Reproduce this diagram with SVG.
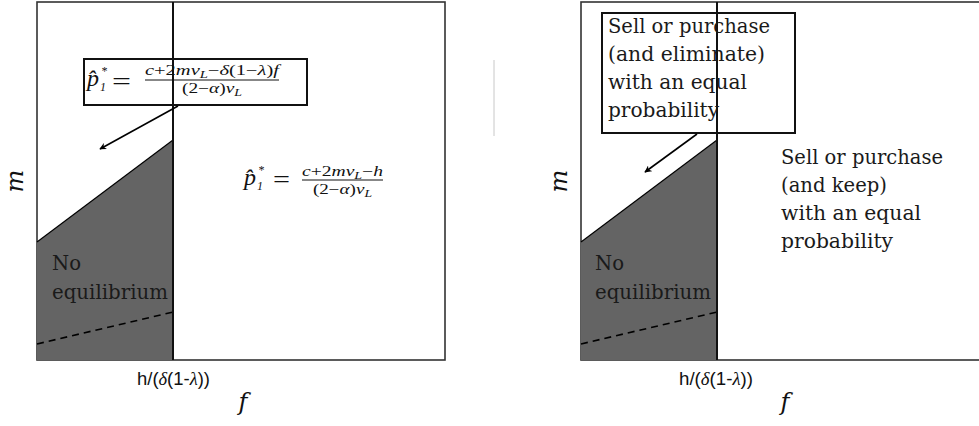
<svg xmlns="http://www.w3.org/2000/svg" width="979" height="426" viewBox="0 0 979 426">
<style>
.panel{fill:#fff;stroke:#333;stroke-width:1.6}
.shade{fill:#646464;stroke:none}
.diag{stroke:#000;stroke-width:1.2;fill:none}
.dash{stroke:#000;stroke-width:1.6;stroke-dasharray:7 5;fill:none}
.vline{stroke:#111;stroke-width:2;fill:none}
.box{fill:none;stroke:#111;stroke-width:2}
.serif{font-family:'Liberation Serif','DejaVu Serif',serif;fill:#111}
.mi{font-family:'Liberation Serif','DejaVu Serif',serif;font-style:italic;fill:#111}
.ax{font-family:'DejaVu Serif','Liberation Serif',serif;font-style:italic;fill:#111;font-size:24px}
.lbl{font-family:'DejaVu Serif','Liberation Serif',serif;fill:#1a1a1a;font-size:19.5px}
.sans{font-family:'Liberation Sans','DejaVu Sans',sans-serif;fill:#111;font-size:18px}
.arrow{stroke:#000;stroke-width:1.6;fill:none;marker-end:url(#ah)}
</style>
<defs>
<marker id="ah" viewBox="0 0 10 10" refX="9" refY="5" markerWidth="7" markerHeight="7" orient="auto" markerUnits="userSpaceOnUse">
<path d="M0,0 L10,5 L0,10 L3,5 z" fill="#000"/>
</marker>
</defs>

<g id="left-panel">
<rect class="panel" x="37" y="2" width="408" height="358"/>
<polygon class="shade" points="37,242 173,140 173,360 37,360"/>
<line class="diag" x1="37" y1="242" x2="173" y2="140"/>
<line class="dash" x1="37" y1="344" x2="173" y2="312"/>
<line class="vline" x1="173" y1="2" x2="173" y2="360"/>
</g>
<g id="left-axes">
<text class="ax" transform="translate(23,181) rotate(-90)" text-anchor="middle">m</text>
<text class="ax" x="243" y="410" text-anchor="middle">f</text>
<text class="sans" x="137" y="385" textLength="73" lengthAdjust="spacingAndGlyphs">h/(<tspan class="mi">δ</tspan>(1-<tspan class="mi">λ</tspan>))</text>
</g>
<g id="left-noeq">
<text class="lbl" x="52" y="270" textLength="29" lengthAdjust="spacingAndGlyphs">No</text>
<text class="lbl" x="52" y="299" textLength="116" lengthAdjust="spacingAndGlyphs">equilibrium</text>
</g>
<g id="left-formula-box">
<rect class="box" x="84" y="59" width="223" height="46"/>
<text class="mi" font-size="24" x="87" y="86">p̂<tspan class="serif" font-size="12" dx="2" dy="-11">*</tspan><tspan class="serif" font-size="12" dx="-7" dy="16">1</tspan></text>
<text class="serif" font-size="26" x="112" y="90" textLength="19" lengthAdjust="spacingAndGlyphs">=</text>
<text class="serif" font-size="14" x="145" y="75" textLength="134" lengthAdjust="spacingAndGlyphs"><tspan class="mi">c</tspan>+2<tspan class="mi">mv</tspan><tspan class="mi" font-size="10" dy="3">L</tspan><tspan dy="-3">−</tspan><tspan class="mi">δ</tspan>(1−<tspan class="mi">λ</tspan>)<tspan class="mi">f</tspan></text>
<line x1="145" y1="80" x2="279" y2="80" stroke="#111" stroke-width="1"/>
<text class="serif" font-size="14" x="182" y="93" textLength="60" lengthAdjust="spacingAndGlyphs">(2−<tspan class="mi">α</tspan>)<tspan class="mi">v</tspan><tspan class="mi" font-size="10" dy="3">L</tspan></text>
</g>
<g id="left-formula-right">
<text class="mi" font-size="24" x="244" y="185">p̂<tspan class="serif" font-size="12" dx="2" dy="-11">*</tspan><tspan class="serif" font-size="12" dx="-7" dy="16">1</tspan></text>
<text class="serif" font-size="26" x="273" y="188" textLength="17" lengthAdjust="spacingAndGlyphs">=</text>
<text class="serif" font-size="14" x="302" y="176" textLength="81" lengthAdjust="spacingAndGlyphs"><tspan class="mi">c</tspan>+2<tspan class="mi">mv</tspan><tspan class="mi" font-size="10" dy="3">L</tspan><tspan dy="-3">−</tspan><tspan class="mi">h</tspan></text>
<line x1="302" y1="180" x2="383" y2="180" stroke="#111" stroke-width="1"/>
<text class="serif" font-size="14" x="313" y="194" textLength="59" lengthAdjust="spacingAndGlyphs">(2−<tspan class="mi">α</tspan>)<tspan class="mi">v</tspan><tspan class="mi" font-size="10" dy="3">L</tspan></text>
</g>

<g id="separator">
<line x1="494" y1="60" x2="494" y2="136" stroke="#c8c8c8" stroke-width="1"/>
</g>

<g id="right-panel">
<rect class="panel" x="581" y="2" width="420" height="358"/>
<polygon class="shade" points="581,242 717,140 717,360 581,360"/>
<line class="diag" x1="581" y1="242" x2="717" y2="140"/>
<line class="dash" x1="581" y1="344" x2="717" y2="312"/>
<line class="vline" x1="717" y1="2" x2="717" y2="360"/>
</g>
<g id="right-axes">
<text class="ax" transform="translate(567,181) rotate(-90)" text-anchor="middle">m</text>
<text class="ax" x="785" y="410" text-anchor="middle">f</text>
<text class="sans" x="679" y="385" textLength="74" lengthAdjust="spacingAndGlyphs">h/(<tspan class="mi">δ</tspan>(1-<tspan class="mi">λ</tspan>))</text>
</g>
<g id="right-noeq">
<text class="lbl" x="595" y="270" textLength="29" lengthAdjust="spacingAndGlyphs">No</text>
<text class="lbl" x="595" y="299" textLength="116" lengthAdjust="spacingAndGlyphs">equilibrium</text>
</g>
<g id="right-eliminate-box">
<rect class="box" x="602" y="13" width="193" height="120"/>
<text class="lbl" x="608" y="33" textLength="162" lengthAdjust="spacingAndGlyphs">Sell or purchase</text>
<text class="lbl" x="608" y="61" textLength="157" lengthAdjust="spacingAndGlyphs">(and eliminate)</text>
<text class="lbl" x="608" y="89" textLength="139" lengthAdjust="spacingAndGlyphs">with an equal</text>
<text class="lbl" x="608" y="117" textLength="111" lengthAdjust="spacingAndGlyphs">probability</text>
</g>
<g id="right-keep-label">
<text class="lbl" x="781" y="164" textLength="162" lengthAdjust="spacingAndGlyphs">Sell or purchase</text>
<text class="lbl" x="781" y="192" textLength="106" lengthAdjust="spacingAndGlyphs">(and keep)</text>
<text class="lbl" x="781" y="220" textLength="140" lengthAdjust="spacingAndGlyphs">with an equal</text>
<text class="lbl" x="781" y="248" textLength="112" lengthAdjust="spacingAndGlyphs">probability</text>
</g>

<g id="connectors">
<line class="arrow" x1="178" y1="106" x2="100" y2="149"/>
<line class="arrow" x1="697" y1="134" x2="645" y2="172"/>
</g>
</svg>
